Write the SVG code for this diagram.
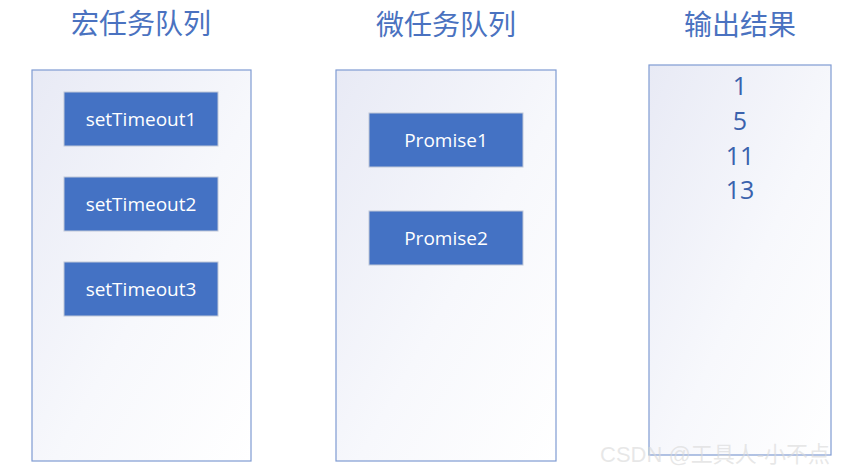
<svg xmlns="http://www.w3.org/2000/svg" width="850" height="470" viewBox="0 0 850 470">
<defs>
<linearGradient id="bg" x1="0" y1="0" x2="1" y2="1">
<stop offset="0" stop-color="#e8eaf5"/>
<stop offset="0.55" stop-color="#f7f8fc"/>
<stop offset="1" stop-color="#ffffff"/>
</linearGradient>
<style>
.title{font-family:"Noto Sans CJK SC","Microsoft YaHei",sans-serif;font-size:28px;fill:#4a72c0;text-anchor:middle}
.panel{fill:url(#bg);stroke:#7f9bd3;stroke-width:1.2}
.box{fill:#4472c4;stroke:#c0c8d8;stroke-width:1}
.lbl{font-family:"Open Sans","Noto Sans",sans-serif;font-size:19px;fill:#ffffff;text-anchor:middle;dominant-baseline:central}
.num{font-family:"Open Sans","Noto Sans",sans-serif;font-size:25px;fill:#3a62ad;text-anchor:middle;dominant-baseline:central}
.wm{font-family:"Liberation Sans","Noto Sans CJK SC",sans-serif;font-size:22px;fill:#d8d8d8;fill-opacity:0.6}
</style>
</defs>
<rect width="850" height="470" fill="#ffffff"/>
<g id="macro">
<text class="title" x="141" y="34">宏任务队列</text>
<rect class="panel" x="32" y="70" width="219" height="391"/>
</g>
<g id="micro">
<text class="title" x="446" y="35">微任务队列</text>
<rect class="panel" x="336" y="70" width="220" height="391"/>
</g>
<g id="output">
<text class="title" x="740" y="35">输出结果</text>
<rect class="panel" x="649" y="65" width="182" height="390"/>
<text class="num" x="740" y="85">1</text>
<text class="num" x="740" y="120">5</text>
<text class="num" x="740" y="155">11</text>
<text class="num" x="740" y="189">13</text>
</g>
<g id="setTimeout1"><rect class="box" x="64" y="92" width="154" height="54"/><text class="lbl" x="141" y="119">setTimeout1</text></g>
<g id="setTimeout2"><rect class="box" x="64" y="177" width="154" height="54"/><text class="lbl" x="141" y="204">setTimeout2</text></g>
<g id="setTimeout3"><rect class="box" x="64" y="262" width="154" height="54"/><text class="lbl" x="141" y="289">setTimeout3</text></g>
<g id="Promise1"><rect class="box" x="369" y="113" width="154" height="54"/><text class="lbl" x="446" y="140">Promise1</text></g>
<g id="Promise2"><rect class="box" x="369" y="211" width="154" height="54"/><text class="lbl" x="446" y="238">Promise2</text></g>
<g id="connectors"></g>
<text class="wm" x="600" y="462">CSDN @工具人-小不点</text>
</svg>
